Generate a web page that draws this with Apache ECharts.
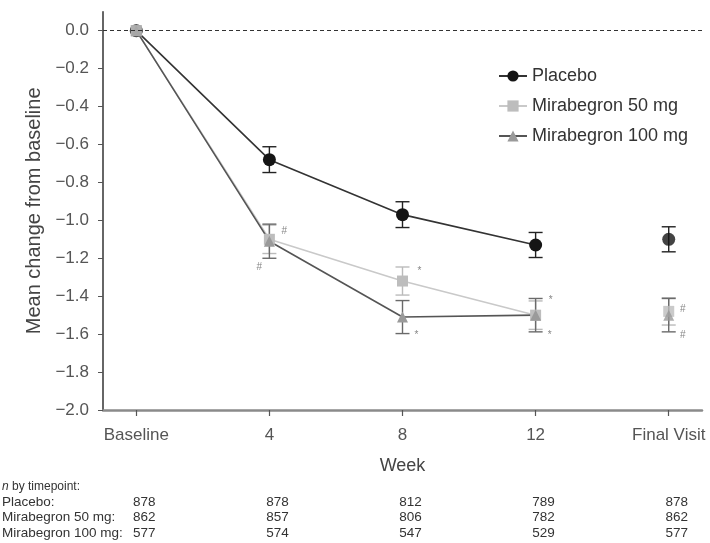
<!DOCTYPE html>
<html>
<head>
<meta charset="utf-8">
<script src="https://cdn.jsdelivr.net/npm/echarts@6/dist/echarts.min.js"></script>
<style>
html,body{margin:0;padding:0;background:#fff;}
#c{width:710px;height:543px;}
</style>
</head>
<body>
<div id="c"></div>
<script>
// ---- data ----
var categories = ['Baseline', '4', '8', '12', 'Final Visit'];
var yTicks = [-2.0, -1.8, -1.6, -1.4, -1.2, -1.0, -0.8, -0.6, -0.4, -0.2, 0.0];
var placebo = [0, -0.68, -0.97, -1.13, -1.10];
var mira50  = [0, -1.10, -1.32, -1.50, -1.48];
var mira100 = [0, -1.11, -1.51, -1.50, -1.50];
var errPlacebo = [0, 0.068, 0.068, 0.066, 0.066];
var err50  = [0, 0.075, 0.074, 0.075, 0.072];
var err100 = [0, 0.09, 0.087, 0.088, 0.088];
var sig50  = ['', '#', '*', '*', '#'];
var sig100 = ['', '#', '*', '*', '#'];
var nRows = [
  {label: 'Placebo:', values: ['878', '878', '812', '789', '878']},
  {label: 'Mirabegron 50 mg:', values: ['862', '857', '806', '782', '862']},
  {label: 'Mirabegron 100 mg:', values: ['577', '574', '547', '529', '577']}
];
var seriesNames = ['Placebo', 'Mirabegron 50 mg', 'Mirabegron 100 mg'];

// ---- helpers ----
function pts(arr, from, to) {
  var out = [];
  for (var i = from; i <= to; i++) out.push([i, arr[i]]);
  return out;
}
function errData(arr, err) {
  var out = [];
  for (var i = 1; i < arr.length; i++) out.push([i, arr[i] - err[i], arr[i] + err[i]]);
  return out;
}
function errSeries(arr, err, color) {
  return {
    type: 'custom', silent: true, z: 1,
    data: errData(arr, err),
    renderItem: function (params, api) {
      var x = api.value(0);
      var lo = api.coord([x, api.value(1)]);
      var hi = api.coord([x, api.value(2)]);
      var hw = 7;
      var st = {stroke: color, lineWidth: 1.4, fill: null};
      return {type: 'group', children: [
        {type: 'line', shape: {x1: lo[0], y1: lo[1], x2: hi[0], y2: hi[1]}, style: st},
        {type: 'line', shape: {x1: lo[0] - hw, y1: lo[1], x2: lo[0] + hw, y2: lo[1]}, style: st},
        {type: 'line', shape: {x1: hi[0] - hw, y1: hi[1], x2: hi[0] + hw, y2: hi[1]}, style: st}
      ]};
    }
  };
}
var sigOffsets50  = [[0,0],[15,-8],[17,-10],[15,-15],[14,-2]];
var sigOffsets100 = [[0,0],[-10,26],[14,18],[14,20],[14,20]];
function sigSeries(arr, sig, offsets) {
  var data = [];
  for (var i = 1; i < arr.length; i++) {
    data.push({value: [i, arr[i]], label: {show: true, formatter: sig[i], offset: offsets[i]}});
  }
  return {
    type: 'scatter', silent: true, symbolSize: 0, z: 5, data: data,
    label: {position: 'inside', color: '#666', fontSize: 10, fontFamily: 'Liberation Sans'}
  };
}

var colP = '#151515', col50 = '#bdbdbd', col100 = '#9a9a9a';
var lineP = '#333', line50 = '#c9c9c9', line100 = '#555';

var chart = echarts.init(document.getElementById('c'));
var option = {
  animation: false,
  backgroundColor: '#fff',
  textStyle: {fontFamily: 'Liberation Sans'},
  grid: {left: 103, right: 8, top: 11.7, bottom: 133, containLabel: false},
  legend: {
    data: seriesNames,
    orient: 'vertical', left: 493, top: 61,
    itemWidth: 28, itemHeight: 14, itemGap: 10,
    textStyle: {fontSize: 18, color: '#333', lineHeight: 20, fontFamily: 'Liberation Sans'},
    selectedMode: false
  },
  xAxis: {
    type: 'value', min: -0.25, max: 4.25,
    name: 'Week', nameLocation: 'middle', nameGap: 47,
    nameTextStyle: {fontSize: 18, color: '#444'},
    axisLine: {show: true, onZero: false, lineStyle: {color: '#8a8a8a', width: 2.5}},
    axisTick: {show: true, length: 6, inside: false, customValues: [0, 1, 2, 3, 4], lineStyle: {color: '#555', width: 1.2}},
    axisLabel: {customValues: [0, 1, 2, 3, 4], margin: 17, fontSize: 17, color: '#555',
      formatter: function (v) { return categories[Math.round(v)]; }},
    splitLine: {show: false}
  },
  yAxis: {
    type: 'value', min: -2, max: 0.1,
    name: 'Mean change from baseline', nameLocation: 'middle', nameGap: 49, nameRotate: 90,
    nameTextStyle: {fontSize: 20, color: '#444'},
    axisLine: {show: true, onZero: false, lineStyle: {color: '#333', width: 1.5}},
    axisTick: {show: true, length: 5, customValues: yTicks, lineStyle: {color: '#555'}},
    axisLabel: {customValues: yTicks, margin: 14, fontSize: 17, color: '#555',
      formatter: function (v) { return v === 0 ? '0.0' : '\u2212' + Math.abs(v).toFixed(1); }},
    splitLine: {show: false}
  },
  series: [
    errSeries(placebo, errPlacebo, '#222'),
    errSeries(mira50, err50, '#bbb'),
    errSeries(mira100, err100, '#6a6a6a'),
    {
      name: seriesNames[0], type: 'line', z: 3, data: pts(placebo, 0, 3),
      symbol: 'circle', symbolSize: 13, showSymbol: true,
      itemStyle: {color: colP}, lineStyle: {color: lineP, width: 1.6},
      markLine: {silent: true, symbol: 'none', label: {show: false},
        lineStyle: {color: '#333', type: [4, 3], width: 1.2},
        data: [{yAxis: 0}]}
    },
    {
      name: seriesNames[1], type: 'line', z: 3, data: pts(mira50, 0, 3),
      symbol: 'rect', symbolSize: 11, showSymbol: true,
      itemStyle: {color: col50}, lineStyle: {color: line50, width: 1.6}
    },
    {
      name: seriesNames[2], type: 'line', z: 3, data: pts(mira100, 0, 3),
      symbol: 'triangle', symbolSize: 11, showSymbol: true,
      itemStyle: {color: col100}, lineStyle: {color: line100, width: 1.6}
    },
    {name: seriesNames[0], type: 'scatter', z: 3, symbol: 'circle', symbolSize: 13,
      itemStyle: {color: colP}, data: pts(placebo, 4, 4)},
    {name: seriesNames[1], type: 'scatter', z: 3, symbol: 'rect', symbolSize: 11,
      itemStyle: {color: col50}, data: pts(mira50, 4, 4)},
    {name: seriesNames[2], type: 'scatter', z: 3, symbol: 'triangle', symbolSize: 11,
      itemStyle: {color: col100}, data: pts(mira100, 4, 4)},
    {type: 'scatter', z: 4, symbol: 'rect', symbolSize: 11, silent: true,
      itemStyle: {color: '#aaa'}, data: pts(mira50, 0, 0)},
    sigSeries(mira50, sig50, sigOffsets50),
    sigSeries(mira100, sig100, sigOffsets100)
  ]
};
chart.setOption(option);

// n-table, columns aligned to the x-axis positions
var rowY = [486.5, 502, 517.5, 533];
var graphics = [{
  type: 'text', x: 2, y: rowY[0],
  style: {text: '{i|n} by timepoint:', fontSize: 12, fill: '#333', fontFamily: 'Liberation Sans',
    verticalAlign: 'middle',
    rich: {i: {fontStyle: 'italic', fontSize: 12, fill: '#333'}}}
}];
nRows.forEach(function (row, r) {
  var y = rowY[r + 1];
  graphics.push({type: 'text', x: 2, y: y, style: {text: row.label, fontSize: 13.5, fill: '#333',
    verticalAlign: 'middle', fontFamily: 'Liberation Sans'}});
  row.values.forEach(function (v, i) {
    var px = chart.convertToPixel({xAxisIndex: 0}, i);
    graphics.push({type: 'text', x: px + 8, y: y, style: {text: v, fontSize: 13.5, fill: '#333',
      align: 'center', verticalAlign: 'middle', fontFamily: 'Liberation Sans'}});
  });
});
chart.setOption({graphic: graphics});
</script>
</body>
</html>
